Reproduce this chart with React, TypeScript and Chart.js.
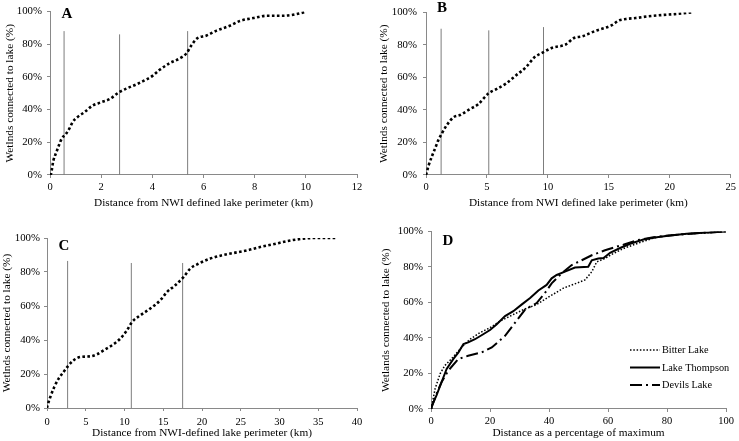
import React, { useEffect, useRef } from "react";
import { Chart, registerables } from "chart.js";
Chart.register(...registerables);

const FONT = "'Liberation Serif', 'Times New Roman', Times, serif";

// ---------- Panel A ----------
const aDistKm = [0, 0.04, 0.13, 0.24, 0.36, 0.47, 0.6, 0.76, 0.89, 1.08, 1.35, 1.67, 2.0, 2.33, 2.68, 2.98, 3.37, 3.76, 4.02, 4.29, 4.68, 5.07, 5.33, 5.53, 5.73, 6.12, 6.51, 7.03, 7.42, 7.95, 8.47, 9.12, 9.5, 9.97];
const aPct = [0, 0.7, 8.7, 13.6, 18.6, 22.6, 24.6, 28.5, 32.5, 35.5, 38.5, 42.5, 44.5, 46.4, 50.4, 52.8, 55.4, 58.4, 60.8, 64.4, 68.4, 71.3, 74.3, 79.3, 83.3, 85.3, 88.3, 91.3, 94.2, 96.0, 97.4, 97.4, 98.0, 99.6];
const aMarkKm = [0.55, 2.72, 5.38];
const aMarkTop = [88, 86, 88];

// ---------- Panel B ----------
const bDistKm = [0, 0.21, 0.49, 0.76, 1.02, 1.3, 1.7, 2.25, 2.79, 3.6, 4.28, 5.09, 5.77, 6.59, 7.4, 8.21, 8.89, 9.56, 10.37, 11.46, 12.14, 12.81, 13.9, 15.25, 15.8, 16.4, 17.2, 18.2, 19.3, 20.4, 21.8];
const bPct = [0, 5.7, 11.6, 16.6, 21.6, 25.6, 30.6, 35.5, 36.9, 40.5, 43.5, 50.0, 52.8, 56.4, 61.4, 66.4, 72.4, 75.3, 78.3, 80.3, 84.3, 85.3, 88.7, 92.2, 95.0, 96.0, 96.6, 97.6, 98.4, 99.0, 100];
const bMarkKm = [1.24, 5.15, 9.64];
const bMarkTop = [90, 89, 91];

// ---------- Panel C ----------
const cDistKm = [0, 0.08, 0.43, 0.94, 1.5, 2.14, 2.79, 3.44, 4.3, 5.59, 6.45, 7.31, 8.39, 9.46, 10.32, 10.97, 12.04, 13.33, 14.62, 15.48, 16.55, 17.63, 18.49, 19.56, 21.07, 22.58, 24.08, 25.8, 27.5, 29.2, 31.0, 32.7, 34.4, 37.4];
const cPct = [0, 1.6, 6.5, 12.4, 17.3, 21.2, 25.1, 28.1, 30.0, 30.4, 31.6, 33.9, 36.9, 40.8, 45.7, 50.6, 54.5, 58.5, 63.4, 68.2, 72.2, 77.1, 82.0, 84.9, 87.9, 89.8, 91.2, 92.7, 94.7, 96.3, 98.2, 99.4, 100, 100];
const cMarkKm = [2.66, 10.88, 17.5];
const cMarkTop = [86.5, 85.3, 85.3];

// ---------- Panel D ----------
const dThompsonX = [0, 0.2, 1.9, 3.6, 5.3, 7.6, 9.3, 11.0, 12.6, 14.9, 17.7, 20.0, 22.3, 25.1, 27.9, 30.7, 33.6, 36.4, 39.2, 40.9, 42.6, 45.4, 48.8, 53.3, 54.5, 56.7, 58.5, 60.7, 64.1, 67.5, 72.0, 76.5, 81.0, 86.7, 92.3, 100];
const dThompsonY = [0, 1.3, 7.8, 15.2, 22.6, 28.2, 31.9, 36.6, 37.5, 39.3, 42.1, 44.5, 47.7, 52.3, 55.1, 58.8, 62.5, 66.8, 69.9, 73.6, 75.5, 77.4, 79.7, 80.1, 83.8, 84.8, 85.0, 88.0, 90.7, 93.1, 95.5, 96.8, 97.8, 98.7, 99.3, 100];
const dBitterX = [0, 0.2, 1.4, 3.1, 4.7, 6.9, 10.4, 13.2, 16.6, 20.0, 23.4, 26.8, 31.3, 35.8, 40.3, 44.9, 49.4, 52.2, 54.5, 56.2, 59.0, 60.7, 65.2, 69.7, 75.4, 81.0, 86.7, 92.3, 100];
const dBitterY = [0, 1.3, 11.5, 19.9, 24.5, 28.2, 34.7, 39.3, 43.0, 45.8, 49.5, 52.3, 56.0, 58.8, 63.5, 68.1, 70.9, 72.7, 77.3, 82.9, 84.8, 86.6, 90.4, 93.1, 96.3, 97.8, 98.7, 99.1, 100];
const dDevilsX = [0, 1.9, 3.6, 5.9, 9.3, 12.6, 17.2, 20.6, 25.1, 28.5, 31.9, 35.8, 38.6, 40.9, 44.3, 47.7, 51.1, 54.5, 59.0, 62.0, 65.2, 69.7, 75.4, 81.0, 92.3, 100];
const dDevilsY = [0, 8.7, 15.2, 21.7, 28.2, 30.0, 31.9, 34.7, 41.2, 48.6, 56.0, 59.7, 65.3, 70.8, 76.4, 81.1, 83.8, 86.6, 89.4, 91.0, 92.5, 95.0, 96.8, 97.8, 99.3, 100];
const dSeriesNames = ["Bitter Lake", "Lake Thompson", "Devils Lake"];

const yTickSuffix = "%";
const AXIS_GRAY = "#898989";
const MARK_GRAY = "#7d7d7d";

const pts = (xs: number[], ys: number[]) => xs.map((x, i) => ({ x, y: ys[i] }));

const annotPlugin = {
  id: "annot",
  afterDraw(chart: any, _args: any, opts: any) {
    const ctx = chart.ctx;
    ctx.save();
    ctx.fillStyle = "#000";
    ctx.font = `bold 15px ${FONT}`;
    ctx.textAlign = "center";
    ctx.textBaseline = "middle";
    ctx.fillText(opts.letter, opts.lx, opts.ly);
    if (opts.legend) {
      const L = opts.legend;
      ctx.font = `10.3px ${FONT}`;
      ctx.textAlign = "left";
      chart.data.datasets.forEach((ds: any, i: number) => {
        const y = L.y0 + i * L.dy;
        ctx.save();
        ctx.strokeStyle = ds.borderColor;
        ctx.lineWidth = ds.borderWidth;
        ctx.setLineDash(ds.borderDash || []);
        ctx.beginPath();
        ctx.moveTo(L.x0, y);
        ctx.lineTo(L.x0 + L.w, y);
        ctx.stroke();
        ctx.restore();
        ctx.fillText(ds.label, L.x0 + L.w + 2, y + 0.5);
      });
    }
    ctx.restore();
  },
};

type PanelSpec = {
  left: number; top: number; w: number; h: number;
  pad: { left: number; top: number; right: number; bottom: number };
  yWidth: number; xHeight: number;
  yTitle: string; xTitle: string;
  yTitlePad: number; xTitlePad: number;
  yTickPad: number; xTickPad: number;
  xMax: number; xStep: number;
  datasets: any[];
  annot: any;
};

function makeMarkers(xs: number[], tops: number[]) {
  return xs.map((x, i) => ({
    label: "",
    data: [{ x, y: 0 }, { x, y: tops[i] }],
    borderColor: MARK_GRAY,
    borderWidth: 1,
    pointRadius: 0,
  }));
}

function dotted(xs: number[], ys: number[]) {
  return {
    label: "",
    data: pts(xs, ys),
    borderColor: "#000",
    borderWidth: 2.6,
    borderDash: [2.6, 2.4],
    borderCapStyle: "butt",
    pointRadius: 0,
    cubicInterpolationMode: "monotone",
  };
}

const panels: PanelSpec[] = [
  {
    left: 0, top: 0, w: 370, h: 220,
    pad: { left: 0, top: 7, right: 13, bottom: 0 },
    yWidth: 50, xHeight: 45,
    yTitle: "Wetlnds connected to lake (%)",
    xTitle: "Distance from NWI defined lake perimeter (km)",
    yTitlePad: 3, xTitlePad: 10, yTickPad: 5, xTickPad: 3,
    xMax: 12, xStep: 2,
    datasets: [dotted(aDistKm, aPct), ...makeMarkers(aMarkKm, aMarkTop)],
    annot: { letter: "A", lx: 67, ly: 14.5 },
  },
  {
    left: 370, top: 0, w: 369, h: 220,
    pad: { left: 0, top: 7, right: 6, bottom: 0 },
    yWidth: 56, xHeight: 45,
    yTitle: "Wetlnds connected to lake (%)",
    xTitle: "Distance from NWI defined lake perimeter (km)",
    yTitlePad: 7, xTitlePad: 10, yTickPad: 6, xTickPad: 3,
    xMax: 25, xStep: 5,
    datasets: [dotted(bDistKm, bPct), ...makeMarkers(bMarkKm, bMarkTop)],
    annot: { letter: "B", lx: 72, ly: 8.5 },
  },
  {
    left: 0, top: 220, w: 370, h: 221,
    pad: { left: 0, top: 18, right: 13, bottom: 0 },
    yWidth: 47, xHeight: 33,
    yTitle: "Wetlnds connected to lake (%)",
    xTitle: "Distance from NWI-defined lake perimeter (km)",
    yTitlePad: 0, xTitlePad: 1, yTickPad: 4, xTickPad: 5,
    xMax: 40, xStep: 5,
    datasets: [dotted(cDistKm, cPct), ...makeMarkers(cMarkKm, cMarkTop)],
    annot: { letter: "C", lx: 64, ly: 26 },
  },
  {
    left: 370, top: 220, w: 369, h: 221,
    pad: { left: 0, top: 9, right: 13, bottom: 0 },
    yWidth: 61, xHeight: 32,
    yTitle: "Wetlands connected to lake (%)",
    xTitle: "Distance as a percentage of maximum",
    yTitlePad: 9, xTitlePad: 1, yTickPad: 5, xTickPad: 3,
    xMax: 100, xStep: 20,
    datasets: [
      {
        label: dSeriesNames[0], data: pts(dBitterX, dBitterY), borderColor: "#000",
        borderWidth: 1.5, borderDash: [1.5, 1.8], pointRadius: 0,
      },
      {
        label: dSeriesNames[1], data: pts(dThompsonX, dThompsonY), borderColor: "#000",
        borderWidth: 2, borderDash: [], pointRadius: 0,
      },
      {
        label: dSeriesNames[2], data: pts(dDevilsX, dDevilsY), borderColor: "#000",
        borderWidth: 2, borderDash: [12, 4, 2, 4], pointRadius: 0,
      },
    ],
    annot: { letter: "D", lx: 78, ly: 21, legend: { x0: 260, y0: 130, dy: 17.5, w: 30 } },
  },
];

function Panel({ spec }: { spec: PanelSpec }) {
  const ref = useRef<HTMLCanvasElement | null>(null);
  useEffect(() => {
    if (!ref.current) return;
    const chart = new Chart(ref.current, {
      type: "line",
      data: { datasets: spec.datasets },
      plugins: [annotPlugin as any],
      options: {
        responsive: false,
        animation: false,
        devicePixelRatio: 1,
        layout: { padding: spec.pad },
        plugins: {
          legend: { display: false },
          tooltip: { enabled: false },
          annot: spec.annot,
        } as any,
        scales: {
          x: {
            type: "linear",
            min: 0,
            max: spec.xMax,
            ticks: {
              stepSize: spec.xStep,
              autoSkip: false,
              maxRotation: 0,
              padding: spec.xTickPad,
              color: "#000",
              font: { family: FONT, size: 10.5 },
            },
            grid: { display: true, drawOnChartArea: false, drawTicks: true, tickLength: 3, color: AXIS_GRAY },
            border: { display: true, color: AXIS_GRAY, width: 1 },
            title: {
              display: true,
              text: spec.xTitle,
              color: "#000",
              font: { family: FONT, size: 11.3 },
              padding: { top: 0, bottom: spec.xTitlePad },
            },
            afterFit: (s: any) => { s.height = spec.xHeight; },
          },
          y: {
            type: "linear",
            min: 0,
            max: 100,
            ticks: {
              stepSize: 20,
              padding: spec.yTickPad,
              color: "#000",
              font: { family: FONT, size: 10.8 },
              callback: (v: any) => `${v}${yTickSuffix}`,
            },
            grid: { display: true, drawOnChartArea: false, drawTicks: true, tickLength: 3, color: AXIS_GRAY },
            border: { display: true, color: AXIS_GRAY, width: 1 },
            title: {
              display: true,
              text: spec.yTitle,
              color: "#000",
              font: { family: FONT, size: 11.3 },
              padding: { top: spec.yTitlePad, bottom: 0 },
            },
            afterFit: (s: any) => { s.width = spec.yWidth; },
          },
        },
      } as any,
    });
    return () => chart.destroy();
  }, [spec]);
  return (
    <canvas
      ref={ref}
      width={spec.w}
      height={spec.h}
      style={{ position: "absolute", left: spec.left, top: spec.top, width: spec.w, height: spec.h }}
    />
  );
}

export default function App() {
  return (
    <div style={{ position: "absolute", left: 0, top: 0, width: 739, height: 441, background: "#fff", overflow: "hidden" }}>
      {panels.map((p, i) => (
        <Panel key={i} spec={p} />
      ))}
    </div>
  );
}
